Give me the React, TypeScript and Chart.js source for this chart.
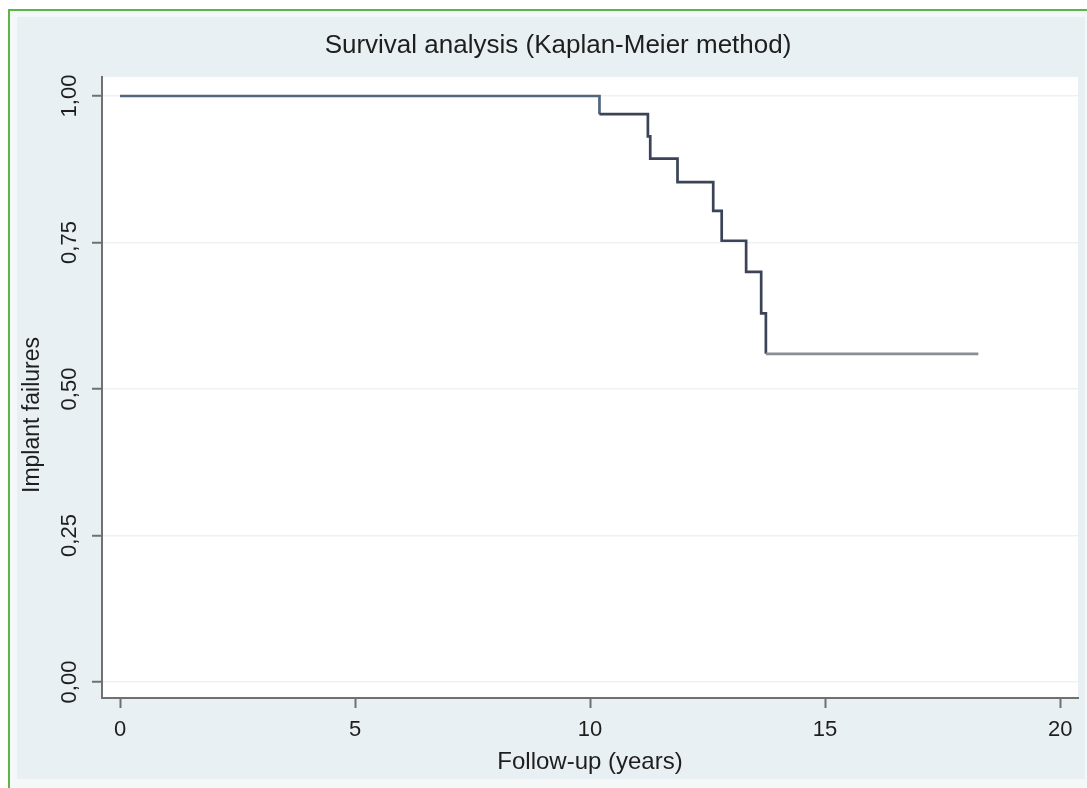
import React, { useEffect, useRef } from "react";
import { Chart, registerables } from "chart.js";

Chart.register(...registerables);

// ---- data ----
const followUpYears = [0, 10.2, 11.23, 11.28, 11.86, 12.62, 12.8, 13.32, 13.64, 13.74, 18.26];
const survival = [1, 0.969, 0.931, 0.893, 0.853, 0.804, 0.753, 0.7, 0.629, 0.56, 0.56];
const xTicks = [0, 5, 10, 15, 20];
const yTicks = [0, 0.25, 0.5, 0.75, 1];
const titleText = "Survival analysis (Kaplan-Meier method)";
const xTitle = "Follow-up (years)";
const yTitle = "Implant failures";

const FONT = '"Liberation Sans", Arial, Helvetica, sans-serif';
const TEXT = "#1e1e1e";
const AXIS = "#707070";

const fmt = (v: number) => v.toFixed(2).replace(".", ",");

const plotBg = {
  id: "plotBg",
  beforeDraw(chart: any) {
    const { ctx, chartArea } = chart;
    ctx.save();
    ctx.fillStyle = "#ffffff";
    ctx.fillRect(chartArea.left, chartArea.top, chartArea.right - chartArea.left, chartArea.bottom - chartArea.top);
    ctx.restore();
  },
};

const texts = {
  id: "texts",
  afterDraw(chart: any) {
    const { ctx } = chart;
    const y = chart.scales.y;
    ctx.save();
    ctx.fillStyle = TEXT;
    ctx.textAlign = "center";
    ctx.textBaseline = "middle";
    // title
    ctx.font = `26px ${FONT}`;
    ctx.fillText(titleText, 558, 46);
    // y tick labels (rotated)
    ctx.font = `22px ${FONT}`;
    yTicks.forEach((v) => {
      const py = y.getPixelForValue(v);
      ctx.save();
      ctx.translate(70, py);
      ctx.rotate(-Math.PI / 2);
      ctx.fillText(fmt(v), 0, 0);
      ctx.restore();
    });
    // y axis title
    ctx.font = `23px ${FONT}`;
    ctx.translate(33, 415);
    ctx.rotate(-Math.PI / 2);
    ctx.fillText(yTitle, 0, 0);
    ctx.restore();
  },
};

export default function App() {
  const ref = useRef<HTMLCanvasElement>(null);

  useEffect(() => {
    if (!ref.current) return;
    const points = followUpYears.map((t, i) => ({ x: t, y: survival[i] }));
    const chart = new Chart(ref.current, {
      type: "line",
      data: {
        datasets: [
          {
            data: points,
            stepped: "before",
            borderColor: "#3d4759",
            borderWidth: 2.7,
            pointRadius: 0,
            fill: false,
            segment: {
              borderColor: (c: any) =>
                c.p0DataIndex === 0 ? "#52667e" : c.p0DataIndex >= survival.length - 2 ? "#8a8d95" : "#3b4456",
            },
          } as any,
        ],
      },
      options: {
        animation: false,
        responsive: false,
        devicePixelRatio: 1,
        layout: { padding: { left: 0, right: 9, top: 77, bottom: 0 } },
        plugins: {
          legend: { display: false },
          tooltip: { enabled: false },
          title: { display: false },
        },
        scales: {
          x: {
            type: "linear",
            min: -0.383,
            max: 20.38,
            afterBuildTicks: (s: any) => {
              s.ticks = xTicks.map((v) => ({ value: v }));
            },
            afterFit: (s: any) => {
              s.height = 90;
            },
            grid: {
              drawOnChartArea: false,
              drawTicks: true,
              tickLength: 10,
              tickColor: AXIS,
              tickWidth: 2,
            },
            border: { display: true, color: AXIS, width: 2 },
            ticks: {
              color: TEXT,
              padding: 9,
              font: { family: FONT, size: 22, lineHeight: 1.2 },
              maxRotation: 0,
              minRotation: 0,
            },
            title: {
              display: true,
              text: xTitle,
              color: TEXT,
              font: { family: FONT, size: 24, lineHeight: 1.2 },
              padding: { top: 0, bottom: 11 },
            },
          },
          y: {
            type: "linear",
            min: -0.0273,
            max: 1.0324,
            afterBuildTicks: (s: any) => {
              s.ticks = yTicks.map((v) => ({ value: v }));
            },
            afterFit: (s: any) => {
              s.width = 102;
            },
            grid: {
              drawOnChartArea: true,
              color: "#eef1f3",
              lineWidth: 1.5,
              drawTicks: true,
              tickLength: 10,
              tickColor: AXIS,
              tickWidth: 2,
            },
            border: { display: true, color: AXIS, width: 2 },
            ticks: { display: false },
            title: { display: false },
          },
        },
      },
      plugins: [plotBg, texts],
    });
    return () => chart.destroy();
  }, []);

  return (
    <div style={{ position: "absolute", left: 0, top: 0, width: 1087, height: 788, background: "#ffffff", overflow: "hidden" }}>
      <div
        style={{
          position: "absolute",
          left: 8,
          top: 9,
          width: 1200,
          height: 900,
          borderTop: "2px solid #5bb548",
          borderLeft: "2px solid #5bb548",
          background: "#f5f8f9",
        }}
      />
      <div style={{ position: "absolute", left: 17, top: 17, width: 1068, height: 762, background: "#e9f0f3" }} />
      <canvas ref={ref} width={1087} height={788} style={{ position: "absolute", left: 0, top: 0 }} />
    </div>
  );
}
